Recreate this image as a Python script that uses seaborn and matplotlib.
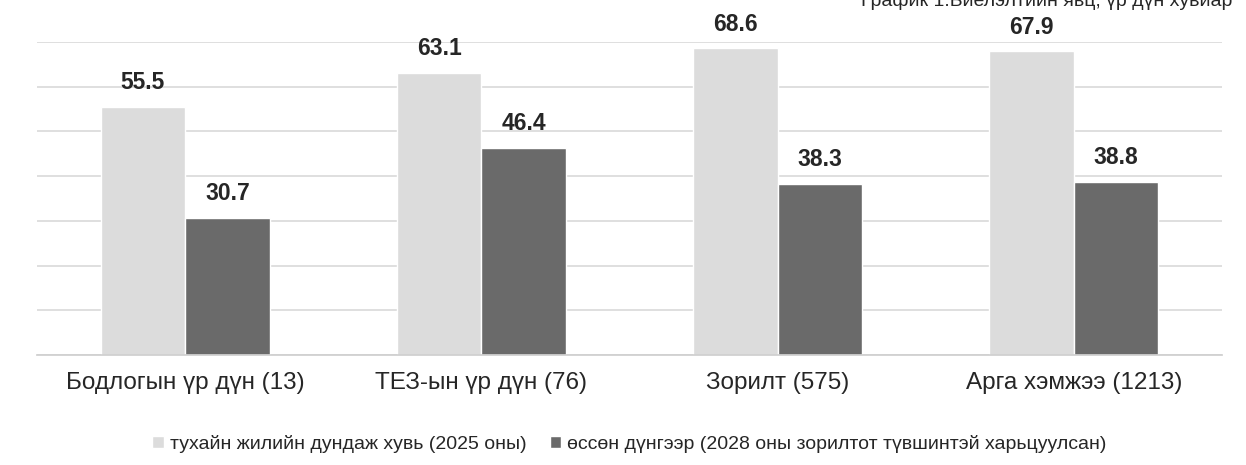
import matplotlib
matplotlib.use('Agg')
import matplotlib.pyplot as plt
import pandas as pd
import seaborn as sns

categories = ['Бодлогын үр дүн (13)', 'ТЕЗ-ын үр дүн (76)', 'Зорилт (575)', 'Арга хэмжээ (1213)']
series_names = ['тухайн жилийн дундаж хувь (2025 оны)',
                'өссөн дүнгээр (2028 оны зорилтот түвшинтэй харьцуулсан)']
avg_2025 = [55.5, 63.1, 68.6, 67.9]
vs_2028 = [30.7, 46.4, 38.3, 38.8]
title = 'График 1.Биелэлтийн явц, үр дүн хувиар'

sns.set_theme(style='white')
plt.rcParams['font.family'] = ['Liberation Sans', 'DejaVu Sans']

df = pd.DataFrame({
    'category': categories * 2,
    'series': [series_names[0]] * 4 + [series_names[1]] * 4,
    'value': avg_2025 + vs_2028,
})

fig, ax = plt.subplots(figsize=(12.46, 4.65), dpi=100)
fig.subplots_adjust(left=37 / 1246, right=1222 / 1246, top=1 - 42 / 465, bottom=1 - 355 / 465)

sns.barplot(data=df, x='category', y='value', hue='series', ax=ax,
            palette=['#dcdcdc', '#6a6a6a'], width=0.57, saturation=1, zorder=2)

for c in ax.containers:
    ax.bar_label(c, fmt='%.1f', padding=9, fontsize=16.5, fontweight='bold', color='#262626')

ax.set_ylim(0, 70)
ax.set_xlim(-0.5, 3.5)
ax.set_yticks(range(0, 71, 10))
ax.yaxis.grid(True, color='#d9d9d9', linewidth=1.2, zorder=0)
ax.set_yticklabels([])
ax.tick_params(axis='y', length=0)
ax.tick_params(axis='x', length=0, labelsize=17.5, pad=12, labelcolor='#262626')
ax.set_xlabel('')
ax.set_ylabel('')
sns.despine(ax=ax, left=True, top=True, right=True)
ax.spines['bottom'].set_color('#cfcfcf')

handles, labels = ax.get_legend_handles_labels()
ax.legend(handles, labels, loc='upper center', bbox_to_anchor=(0.5, -0.2), ncol=2,
          frameon=False, fontsize=14, handlelength=0.6, handleheight=0.6,
          handletextpad=0.3, columnspacing=1.2, labelcolor='#262626')

fig.text(0.989, 1 - 6 / 465, title, ha='right', va='baseline', fontsize=14, color='#262626')

fig.savefig('out.png', dpi=100)
